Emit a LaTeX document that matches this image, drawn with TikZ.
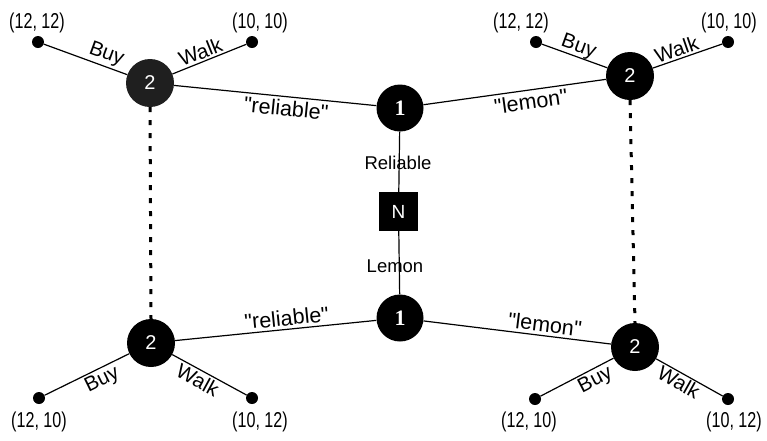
\documentclass[tikz,border=0pt]{standalone}
\usepackage{fontspec}
\setmainfont{Liberation Sans}[Ligatures=TeXOff]
\newfontfamily\narrowfont{Liberation Sans}[FakeStretch=0.75,Ligatures=TeXOff]
\newfontfamily\numserif{Liberation Serif}
\begin{document}
\begin{tikzpicture}[x=1pt,y=-1pt,
  player/.style={circle,fill=black,minimum size=48pt,inner sep=0pt,
    text=white,font=\fontsize{20}{20}\selectfont},
  nature/.style={circle,fill=black,minimum size=47pt,inner sep=0pt,
    text=white,font=\numserif\bfseries\fontsize{22}{22}\selectfont},
  chance/.style={rectangle,fill=black,minimum size=39pt,inner sep=0pt,
    text=white,font=\fontsize{19}{19}\selectfont},
  leaf/.style={circle,fill=black,minimum size=12pt,inner sep=0pt},
  payoff/.style={font=\narrowfont\fontsize{21.5}{21.5}\selectfont,inner sep=0pt},
  edge/.style={line width=1.2pt},
  info/.style={line width=3pt,dash pattern=on 5pt off 8pt},
  move/.style={sloped,font=\fontsize{20.5}{20.5}\selectfont,inner sep=2pt},
  signal/.style={sloped,font=\fontsize{21.5}{21.5}\selectfont,inner sep=3pt},
  state/.style={font=\fontsize{18.5}{18.5}\selectfont,inner sep=0pt}]
\useasboundingbox (0,0) rectangle (767,440);

% chance move and the sender's two nodes
\node[chance] (N) at (398.5,211.5) {N};
\node[nature] (S1) at (400,108) {1};
\node[nature] (S2) at (400,318) {1};

% receiver's four nodes
\node[player,fill=black!88] (RA) at (150,83) {2};
\node[player] (RB) at (630,76) {2};
\node[player] (RC) at (151,343) {2};
\node[player] (RD) at (635,347) {2};

% terminal nodes
\node[leaf] (A1) at (38,42) {};
\node[leaf] (A2) at (252,42) {};
\node[leaf] (B1) at (536,42) {};
\node[leaf] (B2) at (728,42) {};
\node[leaf] (C1) at (39,398) {};
\node[leaf] (C2) at (252,398) {};
\node[leaf] (D1) at (535,399) {};
\node[leaf] (D2) at (728,399) {};

% payoffs
\node[payoff] (pA1) at (37,23) {(12, 12)};
\node[payoff] (pA2) at (260,23) {(10, 10)};
\node[payoff] (pB1) at (521,23) {(12, 12)};
\node[payoff] (pB2) at (729,23) {(10, 10)};
\node[payoff] (pC1) at (39,422) {(12, 10)};
\node[payoff] (pC2) at (260,422) {(10, 12)};
\node[payoff] (pD1) at (529,422) {(12, 10)};
\node[payoff] (pD2) at (734,422) {(10, 12)};

% nature's draw
\draw[edge] (S1) -- (N);
\draw[edge] (N) -- (S2);
\node[state] (lr) at (398,163) {Reliable};
\node[state] (ll) at (395,266) {Lemon};

% sender's messages
\draw[edge] (RA) -- node[signal,pos=0.56,below] {"reliable"} (S1);
\draw[edge] (S1) -- node[signal,pos=0.58,below] {"lemon"} (RB);
\draw[edge] (RC) -- node[signal,pos=0.56,above] {"reliable"} (S2);
\draw[edge] (S2) -- node[signal,pos=0.64,above] {"lemon"} (RD);

% receiver's actions
\draw[edge] (A1) -- node[move,pos=0.70,above] {Buy} (RA);
\draw[edge] (RA) -- node[move,pos=0.43,above] {Walk} (A2);
\draw[edge] (B1) -- node[move,pos=0.51,above,inner sep=0pt] {Buy} (RB);
\draw[edge] (RB) -- node[move,pos=0.39,above] {Walk} (B2);
\draw[edge] (C1) -- node[move,pos=0.62,below] {Buy} (RC);
\draw[edge] (RC) -- node[move,pos=0.41,below] {Walk} (C2);
\draw[edge] (D1) -- node[move,pos=0.68,below] {Buy} (RD);
\draw[edge] (RD) -- node[move,pos=0.41,below,inner sep=1pt] {Walk} (D2);

% information sets
\draw[info] (RA.south) -- (RC.north);
\draw[info] (RB.south) -- (RD.north);
\end{tikzpicture}
\end{document}
